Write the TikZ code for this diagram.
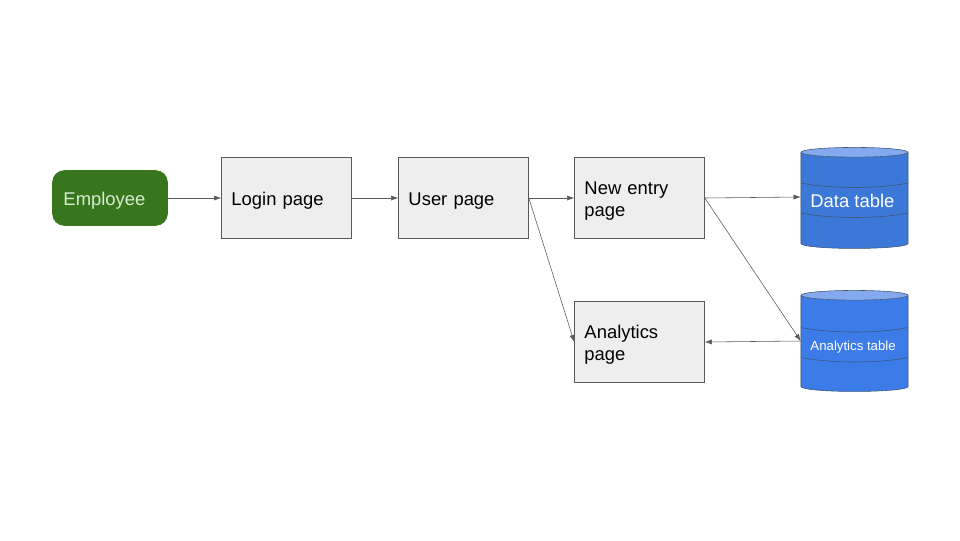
\documentclass[tikz,border=0pt]{standalone}
\usepackage{fontspec}
\setmainfont{Liberation Sans}
\usetikzlibrary{shapes, shapes.geometric, arrows, arrows.meta}
\definecolor{empgreen}{HTML}{38761D}
\definecolor{emptext}{HTML}{D9EAD3}
\definecolor{pagefill}{HTML}{EEEEEE}
\definecolor{pageline}{HTML}{595959}
\definecolor{dbblue}{HTML}{3C78D8}
\definecolor{dbblueb}{HTML}{3C7CE8}
\definecolor{dbtop}{HTML}{84A9EE}
\definecolor{dbline}{HTML}{3F5573}
\tikzset{
    pagebox/.style={draw=pageline, fill=pagefill, minimum width=3.25cm, minimum height=2.025cm,
        text width=2.75cm, inner xsep=0.25cm, inner ysep=0pt, align=left,
        execute at begin node={\rule{0pt}{14pt}},
        font=\fontsize{13.1}{15.6}\selectfont},
    tablebox/.style={cylinder, shape border rotate=90, draw=dbline, cylinder uses custom fill,
        cylinder end fill=dbtop, aspect=0.11, minimum width=2.675cm, minimum height=2.525cm,
        inner sep=0pt, text=white},
    arrowline/.style={draw=pageline, -{Latex[length=5pt, width=3.6pt]}}
}
\begin{document}
\begin{tikzpicture}[x=0.025cm, y=-0.025cm]
            \useasboundingbox (0, 0) rectangle (960, 540);

            \node[draw=empgreen, fill=empgreen, rounded corners=0.3cm, minimum width=2.875cm, minimum height=1.375cm, text width=2.325cm, inner xsep=0.275cm, inner ysep=0pt, align=left, text=emptext, execute at begin node={\rule{0pt}{14pt}}, font=\fontsize{13.1}{15.6}\selectfont] (employee) at (110, 198) {Employee};
            \node[pagebox] (login) at (286.5, 198) {Login page};
            \node[pagebox] (user) at (463.5, 198) {User page};
            \node[pagebox] (entry) at (639.5, 198) {New entry page};
            \node[pagebox] (analytics) at (639.5, 342) {Analytics page};
            \node[tablebox, cylinder body fill=dbblue, font=\fontsize{13.1}{15.6}\selectfont] (datatable) at (854.5, 200.5) {Data table\kern3pt};
            \node[tablebox, cylinder body fill=dbblueb, font=\fontsize{9.4}{11}\selectfont] (analyticstable) at (854.5, 343.5) {\rule{0pt}{11.5pt}Analytics table\kern2pt};

            \foreach \dy in {0, 144.5} {
                \draw[dbline] (801, 183+\dy) .. controls (830, 189+\dy) and (879, 189+\dy) .. (908, 183+\dy);
                \draw[dbline] (801, 213+\dy) .. controls (830, 219+\dy) and (879, 219+\dy) .. (908, 213+\dy);
            }

            \draw[arrowline] (employee) -- (login);
            \draw[arrowline] (login) -- (user);
            \draw[arrowline] (user) -- (entry);
            \draw[arrowline] (user.east) -- (analytics.west);
            \draw[arrowline] (entry.east) -- ([yshift=0.0875cm]datatable.west);
            \draw[arrowline] (entry.east) -- ([yshift=0.0625cm]analyticstable.west);
            \draw[arrowline] ([yshift=0.0625cm]analyticstable.west) -- (analytics.east);
    	\end{tikzpicture}
\end{document}
